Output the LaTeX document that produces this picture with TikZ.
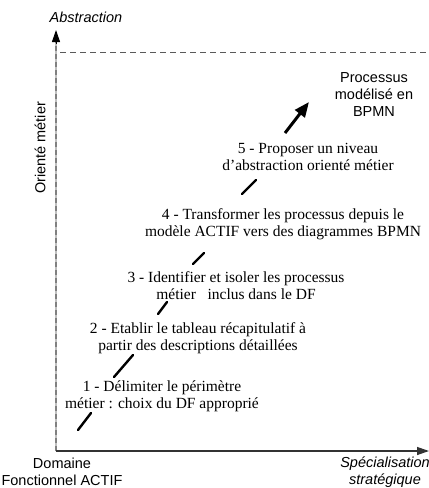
\documentclass[tikz,border=0pt]{standalone}
\usepackage{fontspec}
\setmainfont{Liberation Serif}
\setsansfont{Liberation Sans}
\usetikzlibrary{arrows.meta}
\begin{document}
\begin{tikzpicture}[x=1pt,y=-1pt,
  steptext/.style={font=\fontsize{15.5}{17}\selectfont, align=center, inner sep=0pt},
  sanstext/.style={font=\sffamily\fontsize{14.5}{17}\selectfont, align=center, inner sep=0pt},
  axislabel/.style={font=\sffamily\itshape\fontsize{14.5}{17}\selectfont, align=center, inner sep=0pt},
  seg/.style={line width=2.4pt, line cap=round},
  bigarrow/.style={line width=3pt, -{Triangle[length=15pt,width=12pt]}},
  axisarrow/.style={-{Triangle[length=12pt,width=8pt]}},
]
\useasboundingbox (0,0) rectangle (429,488);
% axes
\coordinate (O) at (56,451);
\coordinate (ytop) at (56,30);
\coordinate (xend) at (429,451);
\coordinate (dl) at (60,52);
\coordinate (dr) at (429,52);
\draw[gray!50, line width=1.2pt] (O) -- (56,42);
\draw[gray, line width=1.2pt, dash pattern=on 5pt off 3pt] (O) -- (56,42);
\draw[axisarrow, black, line width=1pt] (56,44) -- (ytop);
\draw[gray!40!black, line width=1.3pt, axisarrow] (O) -- (xend);
\draw[gray!70!black, line width=1pt, dash pattern=on 6pt off 4pt] (dl) -- (dr);

% labels
\node[axislabel] (abs) at (86,17) {Abstraction};
\node[sanstext, rotate=90] (om) at (40,148) {Orienté métier};
\node[sanstext] (dom) at (62,472) {Domaine\\Fonctionnel ACTIF};
\node[axislabel] (spec) at (385,472) {Spécialisation\\stratégique};
\node[sanstext] (proc) at (374,95) {Processus\\modélisé en\\BPMN};

% steps
\node[steptext] (s5) at (308,157) {5 - Proposer un niveau\\d'abstraction orienté métier};
\node[steptext] (s4) at (283,224) {4 - Transformer les processus depuis le\\modèle ACTIF vers des diagrammes BPMN};
\node[steptext] (s3) at (236,286) {3 - Identifier et isoler les processus\\métier \ \ inclus dans le DF};
\node[steptext] (s2) at (198,338) {2 - Etablir le tableau récapitulatif à\\partir des descriptions détaillées};
\node[steptext] (s1) at (162,396) {1 - Délimiter le périmètre\\métier : choix du DF approprié};

% connector segments
\coordinate (a0) at (78,430);
\coordinate (a1) at (91,413);
\coordinate (b0) at (114,377);
\coordinate (b1) at (133,355);
\coordinate (c0) at (158,314);
\coordinate (c1) at (167,302);
\coordinate (d0) at (193,264);
\coordinate (d1) at (204,253);
\coordinate (e0) at (242,194);
\coordinate (e1) at (256,180);
\coordinate (f0) at (285,133);
\coordinate (f1) at (309,102);
\draw[seg] (a0) -- (a1);
\draw[seg] (b0) -- (b1);
\draw[seg] (c0) -- (c1);
\draw[seg] (d0) -- (d1);
\draw[seg] (e0) -- (e1);
\draw[bigarrow] (f0) -- (f1);
\end{tikzpicture}
\end{document}
